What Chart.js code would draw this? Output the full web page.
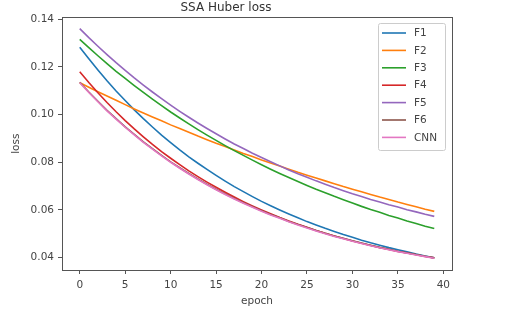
<!DOCTYPE html>
<html>
<head>
<meta charset="utf-8">
<script src="https://cdn.jsdelivr.net/npm/chart.js@4.4.1/dist/chart.umd.min.js"></script>
<style>
  body { margin: 0; background: #fff; }
  canvas { display: block; }
</style>
</head>
<body>
<canvas id="lossChart" width="520" height="322"></canvas>
<script>
// epochs and loss per model
var epochs = [0,1,2,3,4,5,6,7,8,9,10,11,12,13,14,15,16,17,18,19,
              20,21,22,23,24,25,26,27,28,29,30,31,32,33,34,35,36,37,38,39];
var f1 = [0.1283,0.1234,0.1187,0.1142,0.1099,0.1059,0.1020,0.0983,0.0948,0.0914,
          0.0883,0.0852,0.0823,0.0796,0.0770,0.0745,0.0721,0.0698,0.0677,0.0656,
          0.0636,0.0618,0.0600,0.0583,0.0567,0.0551,0.0537,0.0523,0.0510,0.0497,
          0.0485,0.0473,0.0462,0.0452,0.0442,0.0433,0.0424,0.0415,0.0407,0.0399];
var f2 = [0.1134,0.1115,0.1096,0.1078,0.1060,0.1042,0.1024,0.1007,0.0990,0.0974,
          0.0957,0.0942,0.0926,0.0910,0.0895,0.0880,0.0866,0.0852,0.0837,0.0824,
          0.0810,0.0797,0.0784,0.0771,0.0758,0.0746,0.0734,0.0722,0.0710,0.0698,
          0.0687,0.0676,0.0665,0.0654,0.0644,0.0633,0.0623,0.0613,0.0603,0.0594];
var f3 = [0.1316,0.1281,0.1247,0.1214,0.1182,0.1152,0.1122,0.1093,0.1065,0.1038,
          0.1011,0.0986,0.0961,0.0937,0.0914,0.0892,0.0870,0.0849,0.0829,0.0809,
          0.0790,0.0771,0.0753,0.0736,0.0719,0.0703,0.0687,0.0672,0.0657,0.0643,
          0.0629,0.0615,0.0602,0.0590,0.0577,0.0566,0.0554,0.0543,0.0532,0.0522];
var f4 = [0.1180,0.1135,0.1092,0.1051,0.1012,0.0975,0.0940,0.0907,0.0875,0.0845,
          0.0817,0.0790,0.0764,0.0740,0.0717,0.0695,0.0674,0.0654,0.0635,0.0617,
          0.0600,0.0584,0.0568,0.0554,0.0540,0.0527,0.0514,0.0502,0.0491,0.0480,
          0.0470,0.0460,0.0451,0.0442,0.0434,0.0426,0.0419,0.0412,0.0405,0.0399];
var f5 = [0.1361,0.1323,0.1287,0.1252,0.1218,0.1186,0.1154,0.1124,0.1095,0.1067,
          0.1040,0.1014,0.0989,0.0965,0.0942,0.0920,0.0898,0.0877,0.0858,0.0838,
          0.0820,0.0802,0.0785,0.0768,0.0752,0.0737,0.0722,0.0708,0.0694,0.0681,
          0.0668,0.0656,0.0644,0.0633,0.0622,0.0612,0.0601,0.0592,0.0582,0.0573];
var f6 = [0.1136,0.1095,0.1056,0.1018,0.0983,0.0949,0.0917,0.0886,0.0857,0.0829,
          0.0802,0.0777,0.0753,0.0730,0.0708,0.0687,0.0667,0.0648,0.0630,0.0613,
          0.0597,0.0581,0.0567,0.0552,0.0539,0.0526,0.0514,0.0502,0.0491,0.0481,
          0.0471,0.0461,0.0452,0.0443,0.0435,0.0427,0.0420,0.0413,0.0406,0.0399];
var cnn = [0.1134,0.1093,0.1054,0.1016,0.0981,0.0947,0.0915,0.0884,0.0855,0.0827,
           0.0800,0.0775,0.0751,0.0728,0.0706,0.0685,0.0665,0.0646,0.0628,0.0611,
           0.0595,0.0579,0.0565,0.0550,0.0537,0.0524,0.0512,0.0500,0.0489,0.0479,
           0.0469,0.0459,0.0450,0.0441,0.0433,0.0425,0.0418,0.0411,0.0404,0.0397];

var names = ['F1', 'F2', 'F3', 'F4', 'F5', 'F6', 'CNN'];
var xTicks = [0, 5, 10, 15, 20, 25, 30, 35, 40];
var yTicks = [0.04, 0.06, 0.08, 0.10, 0.12, 0.14];

var series = [f1, f2, f3, f4, f5, f6, cnn];
var colors = ['#1f77b4', '#ff7f0e', '#2ca02c', '#d62728', '#9467bd', '#8c564b', '#e377c2'];
var txt = '#444';
var font = 'DejaVu Sans';

function points(vals) {
    return epochs.map(function(e, i) {
        return { x: e, y: vals[i] };
    });
}

var datasets = series.map(function(vals, i) {
    return {
        label: names[i],
        data: points(vals),
        borderColor: colors[i],
        backgroundColor: colors[i],
        borderWidth: 1.6,
        pointRadius: 0,
        fill: false,
        order: series.length - i   // later series on top, like matplotlib
    };
});

// box around the plot + legend in the upper right corner
var boxAndLegend = {
    id: 'boxAndLegend',
    afterDatasetsDraw: function(chart) {
        var c = chart.ctx, a = chart.chartArea;
        c.save();
        c.strokeStyle = '#555';
        c.lineWidth = 1;
        c.strokeRect(Math.round(a.left) + 0.5, Math.round(a.top) + 0.5,
                     Math.round(a.right - a.left), Math.round(a.bottom - a.top));

        var bx = 378, by = 23, bw = 67, bh = 127;
        c.fillStyle = 'rgba(255,255,255,0.8)';
        c.strokeStyle = '#ccc';
        c.beginPath();
        c.roundRect(bx + 0.5, by + 0.5, bw, bh, 2);
        c.fill();
        c.stroke();

        c.font = '10.5px "' + font + '"';
        c.textBaseline = 'middle';
        c.textAlign = 'left';
        chart.data.datasets.forEach(function(ds, i) {
            var y = 33 + i * 17.4;
            c.strokeStyle = ds.borderColor;
            c.lineWidth = 1.6;
            c.beginPath();
            c.moveTo(382, y);
            c.lineTo(406, y);
            c.stroke();
            c.fillStyle = txt;
            c.fillText(ds.label, 414, y + 0.5);
        });
        c.restore();
    }
};

var ctx = lossChart.getContext('2d');
var config = {
    type: 'line',
    data: { datasets: datasets },
    options: {
        responsive: false,
        animation: false,
        layout: { padding: { left: 0, right: 68, top: 0, bottom: 0 } },
        plugins: {
            legend: { display: false },
            tooltip: { enabled: false },
            title: {
                display: true,
                text: 'SSA Huber loss',
                color: '#333',
                font: { family: font, size: 12, weight: 'normal' },
                padding: { top: 1, bottom: 2 }
            }
        },
        scales: {
            x: {
                type: 'linear',
                min: -1.95,
                max: 40.95,
                afterBuildTicks: function(s) {
                    s.ticks = xTicks.map(function(v) { return { value: v }; });
                },
                afterFit: function(s) { s.height = 52; },
                grid: { display: true, drawOnChartArea: false, drawTicks: true, tickLength: 4, color: '#555' },
                border: { display: false },
                ticks: { color: txt, padding: 5, maxRotation: 0, font: { family: font, size: 10.5 } },
                title: {
                    display: true,
                    text: 'epoch',
                    color: txt,
                    font: { family: font, size: 10.5 },
                    padding: { top: 0, bottom: 14 }
                }
            },
            y: {
                type: 'linear',
                min: 0.0348,
                max: 0.1408,
                afterBuildTicks: function(s) {
                    s.ticks = yTicks.map(function(v) { return { value: v }; });
                },
                afterFit: function(s) { s.width = 62; },
                grid: { display: true, drawOnChartArea: false, drawTicks: true, tickLength: 4, color: '#555' },
                border: { display: false },
                ticks: {
                    color: txt,
                    padding: 4,
                    font: { family: font, size: 10.5 },
                    callback: function(v) { return v.toFixed(2); }
                },
                title: {
                    display: true,
                    text: 'loss',
                    color: txt,
                    font: { family: font, size: 10.5 },
                    padding: { top: 10, bottom: 0 }
                }
            }
        }
    },
    plugins: [boxAndLegend]
};

var chart = new Chart(ctx, config);
</script>
</body>
</html>
